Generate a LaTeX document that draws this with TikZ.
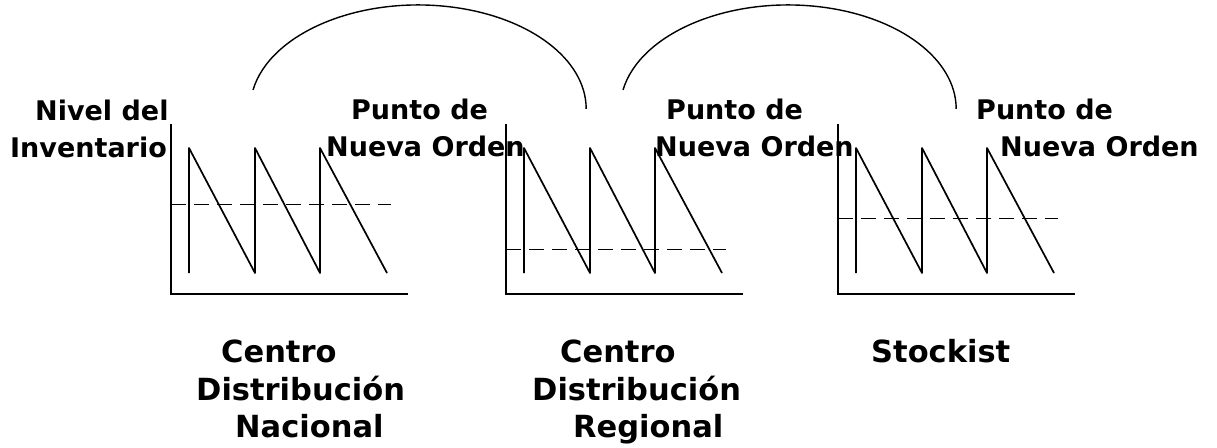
\documentclass[tikz,border=0pt]{standalone}
\usepackage{fontspec}
\setmainfont{DejaVu Sans}
\usetikzlibrary{positioning}
\tikzset{
  etiqueta/.style={anchor=base west, inner sep=0pt, font=\fontsize{27}{33}\selectfont\bfseries},
  centro/.style={anchor=base west, inner sep=0pt, font=\fontsize{30.5}{37}\selectfont\bfseries},
  eje/.style={line width=1.8pt},
  diente/.style={line width=1.7pt, line join=round},
  reorden/.style={line width=1pt, dash pattern=on 15pt off 8pt},
  arco/.style={line width=1.4pt}
}
\begin{document}
\begin{tikzpicture}[x=1pt,y=-1pt]
\useasboundingbox (0,0) rectangle (1217,447);

% niveles de inventario
\foreach \ox/\ry in {171/204, 506/249, 838/218}{
  \draw[eje] (\ox,124) -- (\ox,294) -- ({\ox+237},294);
  \draw[reorden] (\ox,\ry) -- ({\ox+220},\ry);
  \draw[diente] ({\ox+18},273) -- ({\ox+18},148) -- ({\ox+84},273) -- ({\ox+84},148)
    -- ({\ox+149},273) -- ({\ox+149},148) -- ({\ox+216},273);
}

% arcos
\draw[arco] (253,90) arc[start angle=190.5, end angle=360, x radius=168, y radius=104];
\draw[arco] (623,90) arc[start angle=190.5, end angle=360, x radius=168, y radius=104];

% textos de arriba
\node[etiqueta] (nivel) at (35,120) {Nivel del};
\node[etiqueta] (inventario) at (10,157) {Inventario};
\node[etiqueta] (punto1) at (351,119) {Punto de};
\node[etiqueta] (orden1) at (326,156) {Nueva Orden};
\node[etiqueta] (punto2) at (666,119) {Punto de};
\node[etiqueta] (orden2) at (655,156) {Nueva Orden};
\node[etiqueta] (punto3) at (976,119) {Punto de};
\node[etiqueta] (orden3) at (1000,156) {Nueva Orden};

% centros
\node[centro] (centroN) at (221,362) {Centro};
\node[centro] (distN) at (196,400) {Distribución};
\node[centro] (nacional) at (235,437) {Nacional};
\node[centro] (centroR) at (560,362) {Centro};
\node[centro] (distR) at (532,400) {Distribución};
\node[centro] (regional) at (573,437) {Regional};
\node[centro] (stockist) at (871,362) {Stockist};

\end{tikzpicture}
\end{document}
